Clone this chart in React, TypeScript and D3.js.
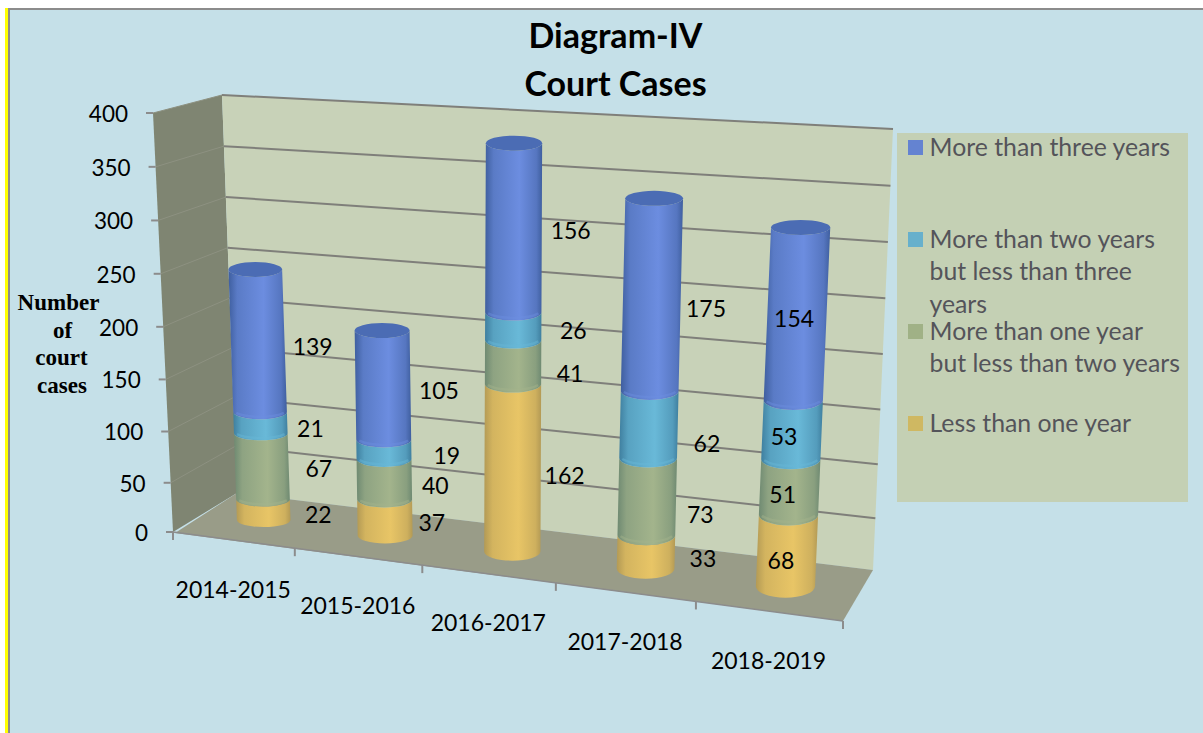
import React from 'react';
import * as d3 from 'd3';

// Data
const categories = ['2014-2015', '2015-2016', '2016-2017', '2017-2018', '2018-2019'];
const lessThanOne = [22, 37, 162, 33, 68];
const oneToTwo = [67, 40, 41, 73, 51];
const twoToThree = [21, 19, 26, 62, 53];
const moreThanThree = [139, 105, 156, 175, 154];
const seriesValues = [lessThanOne, oneToTwo, twoToThree, moreThanThree];
const valueTicks = [0, 50, 100, 150, 200, 250, 300, 350, 400];
const yTitle = ['Number', 'of', 'court', 'cases'];
const yTitleX = [58.5, 62.5, 61.5, 62];
const titleLines = ['Diagram-IV', 'Court Cases'];
const legendLabels = [
  ['More than three years'],
  ['More than two years', 'but less than three', 'years'],
  ['More than one year', 'but less than two years'],
  ['Less than one year'],
];

// Hand placed data labels, offset from the middle of their segment (series, then category)
const labelDx = [
  [55, 47, 52, 57, -6],
  [57, 51, 57, 53, -7],
  [50, 63, 60, 58, -8],
  [55, 56, 57, 54, -3],
];
const labelDy = [
  [5, 5, 7, 7, 10],
  [3, 7, 14, 19, 9],
  [7, 7, 7, 21, 9],
  [8, 7, 6, 17, 7],
];

// Cylinder shading per series: edge, middle
const seriesColors = [
  ['#b39a55', '#e8c566'],
  ['#6f8a72', '#a3b48c'],
  ['#3f7f9f', '#69b9d8'],
  ['#3f5f9f', '#6c8de0'],
];
const legendColors = ['#6483d1', '#67b0cc', '#a0b186', '#cfb862'];

// Corners of the 3D box as seen on the page
const boxValue = d3.scalePow().exponent(1.03).domain([0, 400]);
const xFrontLeft = boxValue.copy().range([173, 153]);
const yFrontLeft = boxValue.copy().range([532, 113]);
const xBackLeft = boxValue.copy().range([237, 222]);
const yBackLeft = boxValue.copy().range([493, 95]);
const xFrontRight = boxValue.copy().range([843, 870]);
const yFrontRight = boxValue.copy().range([621, 157]);
const xBackRight = boxValue.copy().range([873, 893]);
const yBackRight = boxValue.copy().range([570, 129]);

// Foreshortening along the category axis
const perspective = (t: number) => t / (t + (1 - t) * 1.125);
const band = d3.scaleBand<string>().domain(categories).range([0, 1]);
const bandCenter = (c: string) => (band(c) as number) + band.bandwidth() / 2;

// s along the category axis, depth 0 = front, 1 = back
const project = (s: number, depth: number, value: number): [number, number] => {
  const lx = d3.interpolateNumber(xFrontLeft(value), xBackLeft(value))(depth);
  const ly = d3.interpolateNumber(yFrontLeft(value), yBackLeft(value))(depth);
  const rx = d3.interpolateNumber(xFrontRight(value), xBackRight(value))(depth);
  const ry = d3.interpolateNumber(yFrontRight(value), yBackRight(value))(depth);
  return [lx + (rx - lx) * s, ly + (ry - ly) * s];
};

const barDepth = 0.5;
const barHeightFactor = 0.99;
const radiusX = d3.scaleLinear().domain([0, 1]).range([26.5, 30]);
const baseRadiusY = d3.scaleLinear().domain([0, 1]).range([6.5, 12]);
const capRadiusY = 7.5;

const barPoint = (s: number, value: number) => project(s, barDepth, value * barHeightFactor);

const poly = (pts: [number, number][]) => `M${pts.map(p => p.join(',')).join('L')}Z`;
const font = 'Lato, sans-serif';

const App = () => {
  const stacks = d3.stack<number>()
    .keys(d3.range(seriesValues.length) as any)
    .value((i, key) => seriesValues[key as any][i])(d3.range(categories.length));

  const radiusYAt = (s: number, value: number, total: number) =>
    baseRadiusY(s) + (capRadiusY - baseRadiusY(s)) * (value / total);

  return (
    <svg width={1203} height={733} style={{ position: 'absolute', left: 0, top: 0 }}>
      <defs>
        {seriesColors.map(([edge, mid], i) => (
          <linearGradient key={i} id={`cyl${i}`} x1="0" x2="1" y1="0" y2="0">
            <stop offset="0" stopColor={edge} />
            <stop offset="0.15" stopColor={d3.interpolateRgb(edge, mid)(0.6)} />
            <stop offset="0.6" stopColor={mid} />
            <stop offset="0.9" stopColor={d3.interpolateRgb(edge, mid)(0.5)} />
            <stop offset="1" stopColor={edge} />
          </linearGradient>
        ))}
      </defs>

      {/* Page frame */}
      <rect width={1203} height={733} fill="#ffffff" />
      <rect x={5} y={8} width={1198} height={725} fill="#ffff00" />
      <rect x={8} y={8} width={1195} height={725} fill="#8c8c8c" />
      <rect x={10} y={10} width={1193} height={723} fill="#c5e0e8" />

      {/* Walls */}
      <path
        d={poly([[xFrontLeft(0), yFrontLeft(0)], [xFrontLeft(400), yFrontLeft(400)], [xBackLeft(400), yBackLeft(400)], [xBackLeft(0), yBackLeft(0)]])}
        fill="#7f8572"
      />
      <path
        d={poly([[xBackLeft(0), yBackLeft(0)], [xBackLeft(400), yBackLeft(400)], [xBackRight(400), yBackRight(400)], [xBackRight(0), yBackRight(0)]])}
        fill="#c8d2b8"
      />
      <path
        d={poly([[xFrontLeft(0) + 2, yFrontLeft(0) + 1], [xBackLeft(0), yBackLeft(0)], [xBackRight(0), yBackRight(0)], [xFrontRight(0), yFrontRight(0)]])}
        fill="#999c88"
      />

      {/* Gridlines */}
      {valueTicks.map(v => (
        <g key={v} fill="none">
          {v > 0 && (
            <line x1={xBackLeft(v)} y1={yBackLeft(v)} x2={xBackRight(v)} y2={yBackRight(v)} strokeWidth={2} stroke="#7f7f7a" />
          )}
          {v > 0 && (
            <line x1={xFrontLeft(v)} y1={yFrontLeft(v)} x2={xBackLeft(v)} y2={yBackLeft(v)} strokeWidth={1} stroke="#8d9181" />
          )}
          <line x1={xFrontLeft(v) - 7} y1={yFrontLeft(v)} x2={xFrontLeft(v)} y2={yFrontLeft(v)} strokeWidth={2} stroke="#8c8c8c" />
        </g>
      ))}

      {/* Floor front edge and category ticks */}
      <line x1={xFrontLeft(0)} y1={yFrontLeft(0)} x2={xFrontRight(0)} y2={yFrontRight(0)} stroke="#8c8c8c" strokeWidth={1.5} />
      {d3.range(categories.length + 1).map(i => {
        const [x, y] = project(perspective(i / categories.length), 0, 0);
        return <line key={i} x1={x} y1={y} x2={x} y2={y + 8} stroke="#8c8c8c" strokeWidth={2} />;
      })}

      {/* Cylinders */}
      {categories.map((c, ci) => {
        const s = perspective(bandCenter(c));
        const rx = radiusX(s);
        const total = d3.sum(seriesValues, vals => vals[ci]);
        const top = barPoint(s, total);
        return (
          <g key={c}>
            {stacks.map((layer, si) => {
              const [y0, y1] = layer[ci];
              const [bx, by] = barPoint(s, y0);
              const [tx, ty] = barPoint(s, y1);
              const ryB = radiusYAt(s, y0, total);
              const ryT = radiusYAt(s, y1, total);
              return (
                <g key={si}>
                  <path
                    d={`M${bx - rx},${by}A${rx},${ryB} 0 0 0 ${bx + rx},${by}L${tx + rx},${ty}A${rx},${ryT} 0 0 1 ${tx - rx},${ty}Z`}
                    fill={`url(#cyl${si})`}
                  />
                  {/* soft glow where one segment sits on the next */}
                  {si > 0 && (
                    <path
                      d={`M${bx - rx + 3},${by + 1}A${rx},${ryB} 0 0 0 ${bx + rx - 3},${by + 1}`}
                      fill="none"
                      stroke={seriesColors[si][1]}
                      strokeWidth={2.5}
                      opacity={0.45}
                    />
                  )}
                </g>
              );
            })}
            <ellipse cx={top[0]} cy={top[1]} rx={rx} ry={capRadiusY} fill="#4b6cb4" />
          </g>
        );
      })}

      {/* Data labels, placed from the box itself so they stay where the reference has them */}
      <g fontFamily={font} fontSize={23} fill="#000" textAnchor="middle">
        {categories.map((c, ci) => {
          const s = perspective(bandCenter(c));
          return stacks.map((layer, si) => {
            const [y0, y1] = layer[ci];
            const [x, y] = project(s, barDepth, (y0 + y1) / 2);
            return (
              <text key={`${ci}-${si}`} x={x + labelDx[si][ci]} y={y + labelDy[si][ci]} dy="0.35em">
                {seriesValues[si][ci]}
              </text>
            );
          });
        })}
      </g>

      {/* Value axis labels */}
      <g fontFamily={font} fontSize={22.5} fill="#000" textAnchor="end">
        {valueTicks.map(v => (
          <text key={v} x={xFrontLeft(v) - 25} y={yFrontLeft(v) + 1} dy="0.35em">{v}</text>
        ))}
      </g>

      {/* Category labels */}
      <g fontFamily={font} fontSize={23} fill="#000" textAnchor="middle">
        {categories.map(c => {
          const [x, y] = project(perspective(bandCenter(c)), 0, 0);
          return <text key={c} x={x} y={y + 49.5} dy="0.35em">{c}</text>;
        })}
      </g>

      {/* Title */}
      <g fontFamily={font} fontSize={34} fontWeight={700} fill="#000" textAnchor="middle">
        {titleLines.map((t, i) => (
          <text key={t} x={615.5} y={48 + i * 48}>{t}</text>
        ))}
      </g>

      {/* Value axis title */}
      <g fontFamily="'Liberation Serif', serif" fontSize={23} fontWeight={700} fill="#000" textAnchor="middle">
        {yTitle.map((t, i) => (
          <text key={t} x={yTitleX[i]} y={303 + i * 27.7} dy="0.3em">{t}</text>
        ))}
      </g>

      {/* Legend */}
      <rect x={897} y={133} width={291} height={369} fill="#c4d0b4" />
      {legendLabels.map((lines, i) => (
        <g key={i}>
          <rect x={908} y={140 + i * 92} width={15} height={15} fill={legendColors[i]} />
          {lines.map((line, j) => (
            <text key={line} x={929.5} y={147 + i * 92 + j * 32.7} dy="0.35em" fontFamily={font} fontSize={24.8} fill="#54545a">
              {line}
            </text>
          ))}
        </g>
      ))}
    </svg>
  );
};

export default App;
